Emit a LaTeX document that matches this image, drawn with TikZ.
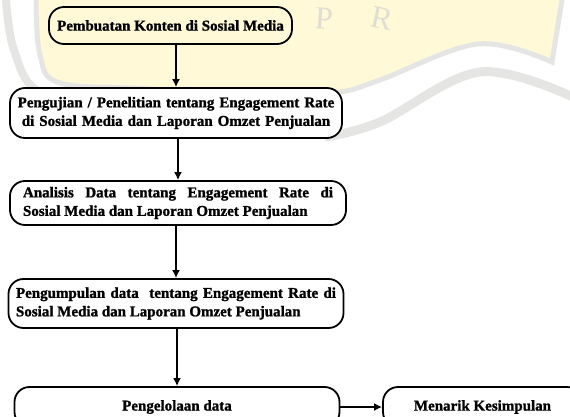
\documentclass[tikz,border=0pt]{standalone}
\usepackage{fontspec}
\setmainfont{Liberation Serif}[BoldFeatures={FakeBold=1.3}]
\usepackage{xcolor}
\usetikzlibrary{arrows.meta}
\hyphenpenalty=10000
\definecolor{shield-yellow}{RGB}{255,249,216}
\definecolor{shield-grey}{RGB}{229,229,227}
\definecolor{shield-text}{RGB}{224,222,210}
\tikzset{
    flow-box/.style = {draw=black, line width=1.8pt, rectangle, rounded corners=15pt, inner sep=4pt, font=\fontsize{15}{18.5}\selectfont\bfseries},
    flow-arrow/.style = {-{Latex[length=8pt,width=8pt]}, line width=1.7pt},
    shield-letter/.style = {text=shield-text, font=\fontsize{32}{32}\selectfont},
}

\begin{document}
\begin{tikzpicture}[x=1pt, y=-1pt]
\useasboundingbox (0,0) rectangle (570,417);
\clip (0,0) rectangle (570,417);

% logo in the background
\fill[shield-yellow] plot[smooth, tension=0.6] coordinates {(36,0) (40,55) (60,83) (150,89) (270,98) (340,92) (380,80) (478,44) (552,62)} -- (562,0) -- cycle;
\draw[shield-grey, line width=5pt] plot[smooth, tension=0.6] coordinates {(36,0) (40,55) (60,83) (150,89) (270,98) (340,92) (380,80) (478,44) (552,62)} -- (562,0);
\draw[shield-grey, line width=8pt] plot[smooth, tension=0.6] coordinates {(6,0) (14,50) (40,92) (120,104)};
\draw[shield-grey, line width=9pt] plot[smooth, tension=0.6] coordinates {(325,137) (380,122) (480,72) (575,98)};
\node[shield-letter, rotate=-4] (letter-p) at (324,19) {P};
\node[shield-letter, rotate=-12] (letter-r) at (382,18) {R};

\node[flow-box, minimum width=243pt, minimum height=37pt] (konten) at (170.5,25.5) {Pembuatan Konten di Sosial Media};
\node[flow-box, fill=white, text width=318pt, align=center, inner xsep=7pt, minimum height=50pt] (pengujian) at (176,113) {Pengujian / Penelitian tentang Engagement Rate\\ di Sosial Media dan Laporan Omzet Penjualan};
\node[flow-box, fill=white, text width=310pt, align=justify, inner xsep=13pt, minimum height=44pt] (analisis) at (178,203) {Analisis Data tentang Engagement Rate di\linebreak Sosial Media dan Laporan Omzet Penjualan};
\node[flow-box, fill=white, text width=320pt, align=justify, inner xsep=7.5pt, minimum height=49pt] (pengumpulan) at (176,303.5) {Pengumpulan data\ \ tentang Engagement Rate di\linebreak Sosial Media dan Laporan Omzet Penjualan};
\node[flow-box, fill=white, minimum width=325pt, minimum height=40pt] (pengelolaan) at (177,407) {Pengelolaan data};
\node[flow-box, fill=white, minimum width=199pt, minimum height=40pt] (kesimpulan) at (482.5,407) {Menarik Kesimpulan};

\draw[flow-arrow] (konten.south -| pengujian.north) -- (pengujian.north);
\draw[flow-arrow] (pengujian.south -| analisis.north) -- (analisis.north);
\draw[flow-arrow] (analisis.south -| pengumpulan.north) -- (pengumpulan.north);
\draw[flow-arrow] (pengumpulan.south -| pengelolaan.north) -- (pengelolaan.north);
\draw[flow-arrow] (pengelolaan) -- (kesimpulan);
\end{tikzpicture}
\end{document}
